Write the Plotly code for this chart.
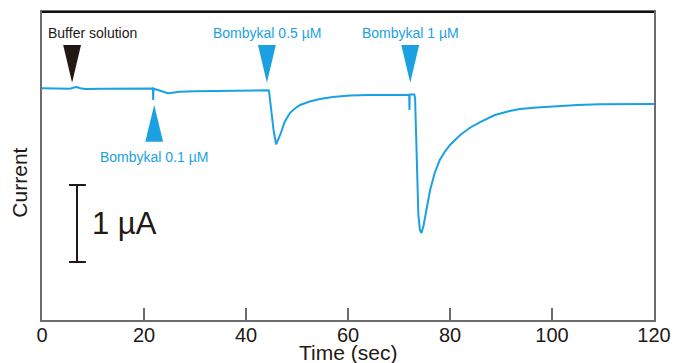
import plotly.graph_objects as go

# Recorded oocyte current trace (time in s, current in µA relative to the resting baseline)
time_s = [0, 3, 5.5, 6.3, 6.8, 7.5, 8.5, 12, 18, 21.75, 21.8, 21.85, 22.1, 23.2, 24.0, 24.7,
          25.5, 27, 30, 35, 40, 44.3, 44.5, 44.8, 45.4, 45.9, 46.3, 46.7, 47.6, 48.6, 49.6,
          50.6, 52.5, 54.5, 57, 60.4, 64, 68, 72.0, 72.05, 72.1, 72.25, 73.0, 73.15, 73.5,
          73.8, 74.1, 74.4, 74.8, 75.4, 76.1, 77.0, 78.0, 79.0, 80.0, 82.0, 84.0, 85.9,
          88.8, 91.7, 93.7, 97, 101.6, 105, 109.4, 115, 120]
current_uA = [0.010, 0.006, 0.003, 0.019, 0.026, 0.010, 0.0, 0.003, 0.004, 0.006, -0.143,
              0.006, 0.0, -0.023, -0.045, -0.056, -0.049, -0.036, -0.029, -0.022, -0.017,
              -0.016, -0.019, -0.221, -0.532, -0.718, -0.666, -0.597, -0.425, -0.312, -0.253,
              -0.208, -0.162, -0.130, -0.104, -0.084, -0.078, -0.075, -0.074, -0.273, -0.073,
              -0.073, -0.071, -0.117, -1.117, -1.636, -1.831, -1.870, -1.779, -1.571, -1.312,
              -1.091, -0.922, -0.812, -0.727, -0.597, -0.500, -0.429, -0.338, -0.286, -0.260,
              -0.240, -0.221, -0.208, -0.199, -0.195, -0.195]

# Application events: time of application, label, colour, marker direction
event_times = [5.9, 22.0, 44.1, 72.2]
event_labels = ["Buffer solution", "Bombykal 0.1 µM", "Bombykal 0.5 µM", "Bombykal 1 µM"]
event_colors = ["#231815", "#1ba1e2", "#1ba1e2", "#1ba1e2"]
event_below = [False, True, False, False]

x_ticks = [0, 20, 40, 60, 80, 100, 120]
scale_bar_uA = 1.0

TRACE = "#1ba1e2"
INK = "#231815"
AXIS = "#6d6b6b"
FONT = "Liberation Sans, Arial, sans-serif"

fig = go.Figure()
fig.add_trace(go.Scatter(x=time_s, y=current_uA, mode="lines",
                         line=dict(color=TRACE, width=2), hoverinfo="skip",
                         showlegend=False))

shapes = []
annotations = []

# Triangle markers and their labels
half_w = 1.75
for t, lab, col, below in zip(event_times, event_labels, event_colors, event_below):
    if below:
        tip, base = -0.208, -0.684
        text_y = -0.877
    else:
        tip, base = 0.082, 0.571
        text_y = 0.727
    shapes.append(dict(type="path", xref="x", yref="y",
                       path=f"M {t - half_w},{base} L {t + half_w},{base} L {t},{tip} Z",
                       fillcolor=col, line=dict(width=0)))
    if lab == "Buffer solution":
        annotations.append(dict(x=0.8, y=text_y, xref="x", yref="y", text=lab,
                                showarrow=False, xanchor="left", yanchor="middle",
                                font=dict(family=FONT, size=14, color=col)))
    else:
        annotations.append(dict(x=t, y=text_y, xref="x", yref="y", text=lab,
                                showarrow=False, xanchor="center", yanchor="middle",
                                font=dict(family=FONT, size=14, color=col)))

# 1 µA scale bar
bar_x, bar_top = 6.86, -1.247
bar_bot = bar_top - scale_bar_uA
shapes.append(dict(type="line", xref="x", yref="y", x0=bar_x, x1=bar_x,
                   y0=bar_top, y1=bar_bot, line=dict(color=INK, width=2)))
for yy in (bar_top, bar_bot):
    shapes.append(dict(type="line", xref="x", yref="y", x0=5.3, x1=8.6,
                       y0=yy, y1=yy, line=dict(color=INK, width=2)))
annotations.append(dict(x=9.4, y=(bar_top + bar_bot) / 2, xref="x", yref="y",
                        text=f"{scale_bar_uA:g} µA", showarrow=False,
                        xanchor="left", yanchor="middle",
                        font=dict(family=FONT, size=31, color=INK)))

# Dark top border of the frame
shapes.append(dict(type="line", xref="paper", yref="paper", x0=0, x1=1, y0=1, y1=1,
                   line=dict(color="#111111", width=2)))

# Axis titles
annotations.append(dict(x=0.5, y=0, xref="paper", yref="paper", yshift=-32,
                        text="Time (sec)", showarrow=False, xanchor="center",
                        yanchor="middle", font=dict(family=FONT, size=21, color=INK)))
annotations.append(dict(x=0, y=0.446, xref="paper", yref="paper", xshift=-22,
                        text="Current", showarrow=False, textangle=-90,
                        xanchor="center", yanchor="middle",
                        font=dict(family=FONT, size=21, color=INK)))

fig.update_layout(
    width=673, height=363,
    margin=dict(l=42, r=19, t=12, b=43, autoexpand=False),
    paper_bgcolor="white", plot_bgcolor="white",
    shapes=shapes, annotations=annotations,
    xaxis=dict(range=[0, 120], tickvals=x_ticks, ticks="inside", ticklen=12,
               tickwidth=1.5, tickcolor=AXIS, showline=True, linecolor=AXIS,
               linewidth=2, mirror=True, showgrid=False, zeroline=False,
               automargin=False, ticklabelstandoff=-4,
               tickfont=dict(family=FONT, size=20, color=INK)),
    yaxis=dict(range=[-3.0, 1.0], showticklabels=False, ticks="", showline=True,
               linecolor=AXIS, linewidth=2, mirror=True, showgrid=False,
               zeroline=False, automargin=False),
)

fig.write_html("out.html")
